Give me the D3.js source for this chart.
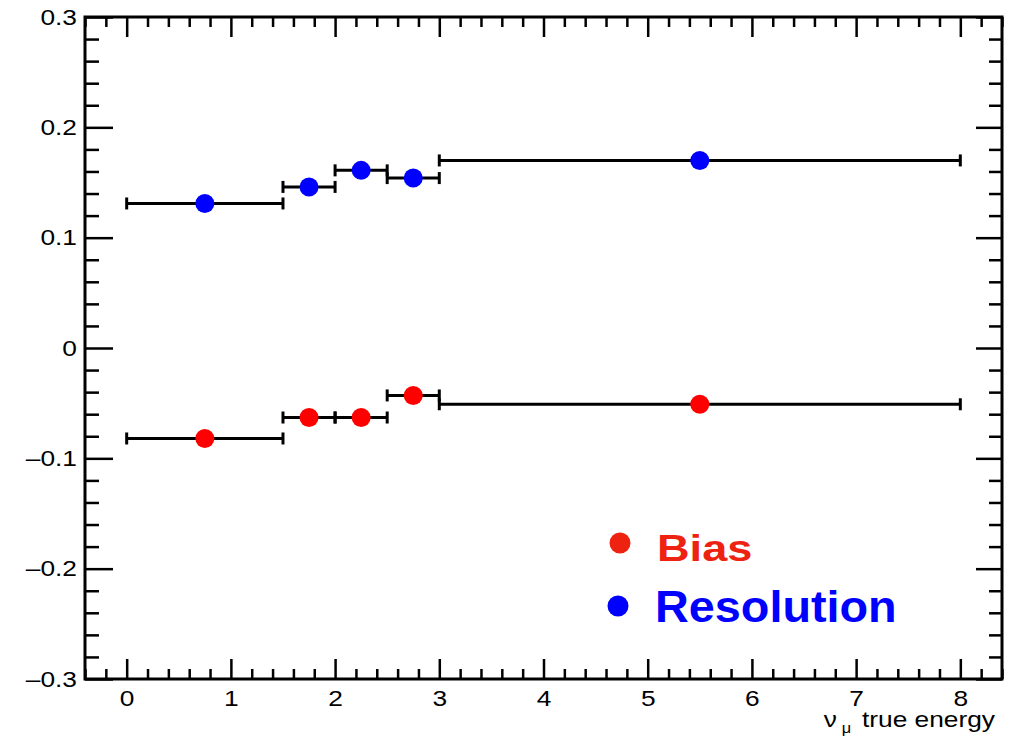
<!DOCTYPE html>
<meta charset="utf-8">
<style>
body { margin: 0; background: #fff; }
text { font-family: "Liberation Sans", Arial, Helvetica, sans-serif; }
.axis path { display: none; }
.axis line { stroke: #000; stroke-width: 2.5px; }
.axis text { font-size: 22.5px; fill: #000; }
.bar { stroke: #000; stroke-width: 3px; fill: none; }
</style>
<svg width="1013" height="741"></svg>
<script src="https://cdn.jsdelivr.net/npm/d3@7"></script>
<script>

// bins in true energy
var binLow = [0, 1.5, 2, 2.5, 3],
    binHigh = [1.5, 2, 2.5, 3, 8],
    binCenter = [0.75, 1.75, 2.25, 2.75, 5.5];

var bias = [-0.082, -0.063, -0.063, -0.043, -0.051],
    resolution = [0.131, 0.146, 0.161, 0.154, 0.170];

var xTicks = [0, 1, 2, 3, 4, 5, 6, 7, 8],
    yTicks = [-0.3, -0.2, -0.1, 0, 0.1, 0.2, 0.3];

var svg = d3.select("svg"),
    margin = {top: 17, right: 11, bottom: 62, left: 85},
    width = 1013 - margin.left - margin.right,
    height = 741 - margin.top - margin.bottom,
    g = svg.append("g").attr("transform", "translate(" + margin.left + "," + margin.top + ")");

var sx = 1.17; // text in the picture is stretched sideways

var x = d3.scaleLinear().domain([-0.4, 8.4]).range([0, width]),
    y = d3.scaleLinear().domain([-0.3, 0.3]).range([height, 0]);

var xMinor = d3.range(-0.4, 8.41, 0.2).filter(function(d) { return Math.abs(d - Math.round(d)) > 1e-6; }),
    yMinor = d3.range(-0.3, 0.301, 0.02).filter(function(d) { return Math.abs(d * 10 - Math.round(d * 10)) > 1e-6; });

function fmtY(d) {
  if (Math.abs(d) < 1e-9) return "0";
  return (d < 0 ? "\u2013" : "") + Math.abs(d).toFixed(1);
}

// bottom axis
g.append("g").attr("class", "axis")
  .attr("transform", "translate(0," + height + ")")
  .call(d3.axisBottom(x).tickValues(xMinor).tickSize(-10).tickFormat(""));
var xb = g.append("g").attr("class", "axis")
  .attr("transform", "translate(0," + height + ")")
  .call(d3.axisBottom(x).tickValues(xTicks).tickSize(-20).tickSizeOuter(0).tickPadding(11).tickFormat(d3.format("d")));
xb.selectAll("text").attr("transform", "scale(" + sx + ",1)");

// top axis
g.append("g").attr("class", "axis")
  .call(d3.axisTop(x).tickValues(xMinor).tickSize(-10).tickFormat(""));
g.append("g").attr("class", "axis")
  .call(d3.axisTop(x).tickValues(xTicks).tickSize(-20).tickFormat(""));

// left axis
g.append("g").attr("class", "axis")
  .call(d3.axisLeft(y).tickValues(yMinor).tickSize(-14).tickFormat(""));
var yl = g.append("g").attr("class", "axis")
  .call(d3.axisLeft(y).tickValues(yTicks).tickSize(-28).tickFormat(fmtY));
yl.selectAll("text")
  .attr("x", -8 / sx)
  .attr("transform", "scale(" + sx + ",1)");

// right axis
g.append("g").attr("class", "axis")
  .attr("transform", "translate(" + width + ",0)")
  .call(d3.axisRight(y).tickValues(yMinor).tickSize(-13).tickFormat(""));
g.append("g").attr("class", "axis")
  .attr("transform", "translate(" + width + ",0)")
  .call(d3.axisRight(y).tickValues(yTicks).tickSize(-26).tickFormat(""));

// frame
g.append("rect")
  .attr("width", width).attr("height", height)
  .attr("fill", "none").attr("stroke", "#000").attr("stroke-width", 3);

// points with bin-width bars
function drawSeries(values, color) {
  var rows = values.map(function(v, i) {
    return {lo: binLow[i], hi: binHigh[i], c: binCenter[i], v: v};
  });
  var s = g.append("g");
  s.selectAll(".bar").data(rows).enter().append("line")
    .attr("class", "bar")
    .attr("x1", function(d) { return x(d.lo); })
    .attr("x2", function(d) { return x(d.hi); })
    .attr("y1", function(d) { return y(d.v); })
    .attr("y2", function(d) { return y(d.v); });
  ["lo", "hi"].forEach(function(k) {
    s.selectAll(".cap-" + k).data(rows).enter().append("line")
      .attr("class", "bar")
      .attr("x1", function(d) { return x(d[k]); })
      .attr("x2", function(d) { return x(d[k]); })
      .attr("y1", function(d) { return y(d.v) - 6; })
      .attr("y2", function(d) { return y(d.v) + 6; });
  });
  s.selectAll("circle").data(rows).enter().append("circle")
    .attr("cx", function(d) { return x(d.c); })
    .attr("cy", function(d) { return y(d.v); })
    .attr("r", 9.5)
    .attr("fill", color);
}
drawSeries(resolution, "#0000ff");
drawSeries(bias, "#ff0000");

// legend
var legend = [
  {name: "Bias", color: "#ee2211", cx: 620, cy: 543, tx: 657, ty: 561, size: 37, sx: 1.22},
  {name: "Resolution", color: "#0000ff", cx: 618, cy: 606, tx: 655, ty: 622, size: 45, sx: 1.04}
];
legend.forEach(function(d) {
  svg.append("circle").attr("cx", d.cx).attr("cy", d.cy).attr("r", 10.5).attr("fill", d.color);
  svg.append("text")
    .attr("transform", "translate(" + d.tx + "," + d.ty + ") scale(" + d.sx + ",1)")
    .attr("font-size", d.size).attr("font-weight", "bold")
    .attr("fill", d.color)
    .text(d.name);
});

// x axis title
var title = svg.append("text")
  .attr("transform", "translate(995,727) scale(" + sx + ",1)")
  .attr("text-anchor", "end")
  .attr("font-size", 22.5);
title.append("tspan").text("\u03bd");
title.append("tspan").attr("font-size", 14).attr("dy", 6).attr("dx", 4).text("\u03bc");
title.append("tspan").attr("dy", -6).attr("dx", 3).text(" true energy");

</script>
